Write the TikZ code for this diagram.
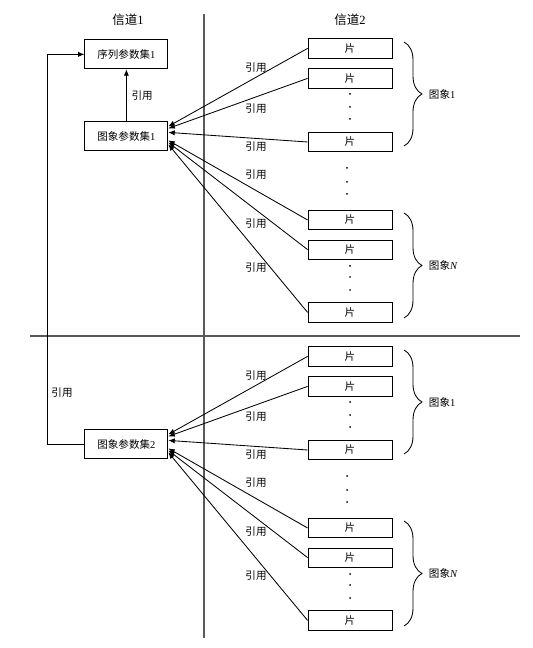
\documentclass[tikz,border=0pt]{standalone}
\usepackage{fontspec}
\setmainfont{Liberation Serif}
\newfontfamily\cjk{Noto Sans CJK SC}
\usepackage{tikz}
\usetikzlibrary{arrows.meta, decorations.pathreplacing}

\tikzset{
    setbox/.style={draw, semithick, minimum width=2.075cm, minimum height=0.725cm, font=\cjk\fontsize{7.5}{9}\selectfont},
    slicebox/.style={draw, semithick, minimum width=2.1cm, minimum height=0.475cm, font=\cjk\fontsize{7.5}{9}\selectfont},
    reftext/.style={font=\cjk\fontsize{7.5}{9}\selectfont},
    refarrow/.style={line width=0.6pt, -{Latex[length=1.6mm, width=1.3mm]}},
    chsep/.style={draw=gray!70!black, line width=1pt},
    grpbrace/.style={line width=0.6pt, decorate, decoration={brace, amplitude=0.45cm}},
}

\begin{document}
\begin{tikzpicture}
        \useasboundingbox (0,0) rectangle (13.3,16.2);

        % Channels
        \node[font=\cjk\fontsize{8.9}{10}\selectfont] (ch1) at (3.2,15.7) {信道\rmfamily 1};
        \node[font=\cjk\fontsize{8.9}{10}\selectfont] (ch2) at (8.75,15.7) {信道\rmfamily 2};
        \draw[chsep] (5.1,15.85) -- (5.1,0.25);
        \draw[chsep] (0.75,7.8) -- (13.0,7.8);

        % Parameter sets
        \node[setbox] (seq1) at (3.16,14.84) {序列参数集\rmfamily 1};
        \node[setbox] (pic1) at (3.16,12.79) {图象参数集\rmfamily 1};
        \node[setbox] (pic2) at (3.16,5.09) {图象参数集\rmfamily 2};
        \draw[refarrow] (pic1) -- (seq1) node[midway, right, reftext] {引用};
        \draw[refarrow] (pic2.west) -- ++(-0.925,0) |- (seq1.west);
        \node[reftext] at (1.55,6.375) {引用};

        % Slices of the upper half
        \node[slicebox] (a1) at (8.75,14.99) {片};
        \node[slicebox] (a2) at (8.75,14.24) {片};
        \node[slicebox] (a3) at (8.75,12.65) {片};
        \node[slicebox] (a4) at (8.75,10.7) {片};
        \node[slicebox] (a5) at (8.75,9.96) {片};
        \node[slicebox] (a6) at (8.75,8.39) {片};
        \fill (8.75,13.85) circle (0.025) (8.75,13.525) circle (0.025) (8.75,13.225) circle (0.025);
        \fill (8.675,12.0) circle (0.025) (8.675,11.65) circle (0.025) (8.675,11.35) circle (0.025);
        \fill (8.75,9.55) circle (0.025) (8.75,9.275) circle (0.025) (8.75,8.95) circle (0.025);

        \draw[refarrow] (a1.west) -- ([yshift=0.25cm]pic1.east);
        \draw[refarrow] (a2.west) -- ([yshift=0.2cm]pic1.east);
        \draw[refarrow] (a3.west) -- ([yshift=0.1cm]pic1.east);
        \draw[refarrow] (a4.west) -- ([yshift=-0.1cm]pic1.east);
        \draw[refarrow] (a5.west) -- ([yshift=-0.15cm]pic1.east);
        \draw[refarrow] (a6.west) -- ([yshift=-0.2cm]pic1.east);
        \node[reftext] at (6.4,14.5) {引用};
        \node[reftext] at (6.4,13.475) {引用};
        \node[reftext] at (6.4,12.525) {引用};
        \node[reftext] at (6.4,11.825) {引用};
        \node[reftext] at (6.4,10.6) {引用};
        \node[reftext] at (6.4,9.5) {引用};

        \draw[grpbrace] (10.1,15.15) -- (10.1,12.55);
        \node[reftext, anchor=west] at (10.6,13.85) {图象\rmfamily 1};
        \draw[grpbrace] (10.1,10.875) -- (10.1,8.25);
        \node[reftext, anchor=west] at (10.6,9.56) {图象\rmfamily\itshape N};

        % Slices of the lower half
        \node[slicebox] (b1) at (8.75,7.29) {片};
        \node[slicebox] (b2) at (8.75,6.54) {片};
        \node[slicebox] (b3) at (8.75,4.95) {片};
        \node[slicebox] (b4) at (8.75,3.0) {片};
        \node[slicebox] (b5) at (8.75,2.26) {片};
        \node[slicebox] (b6) at (8.75,0.69) {片};
        \fill (8.75,6.15) circle (0.025) (8.75,5.825) circle (0.025) (8.75,5.525) circle (0.025);
        \fill (8.675,4.3) circle (0.025) (8.675,3.95) circle (0.025) (8.675,3.65) circle (0.025);
        \fill (8.75,1.85) circle (0.025) (8.75,1.575) circle (0.025) (8.75,1.25) circle (0.025);

        \draw[refarrow] (b1.west) -- ([yshift=0.25cm]pic2.east);
        \draw[refarrow] (b2.west) -- ([yshift=0.2cm]pic2.east);
        \draw[refarrow] (b3.west) -- ([yshift=0.1cm]pic2.east);
        \draw[refarrow] (b4.west) -- ([yshift=-0.1cm]pic2.east);
        \draw[refarrow] (b5.west) -- ([yshift=-0.15cm]pic2.east);
        \draw[refarrow] (b6.west) -- ([yshift=-0.2cm]pic2.east);
        \node[reftext] at (6.4,6.8) {引用};
        \node[reftext] at (6.4,5.775) {引用};
        \node[reftext] at (6.4,4.825) {引用};
        \node[reftext] at (6.4,4.125) {引用};
        \node[reftext] at (6.4,2.9) {引用};
        \node[reftext] at (6.4,1.8) {引用};

        \draw[grpbrace] (10.1,7.45) -- (10.1,4.85);
        \node[reftext, anchor=west] at (10.6,6.15) {图象\rmfamily 1};
        \draw[grpbrace] (10.1,3.175) -- (10.1,0.55);
        \node[reftext, anchor=west] at (10.6,1.86) {图象\rmfamily\itshape N};

    \end{tikzpicture}
\end{document}
